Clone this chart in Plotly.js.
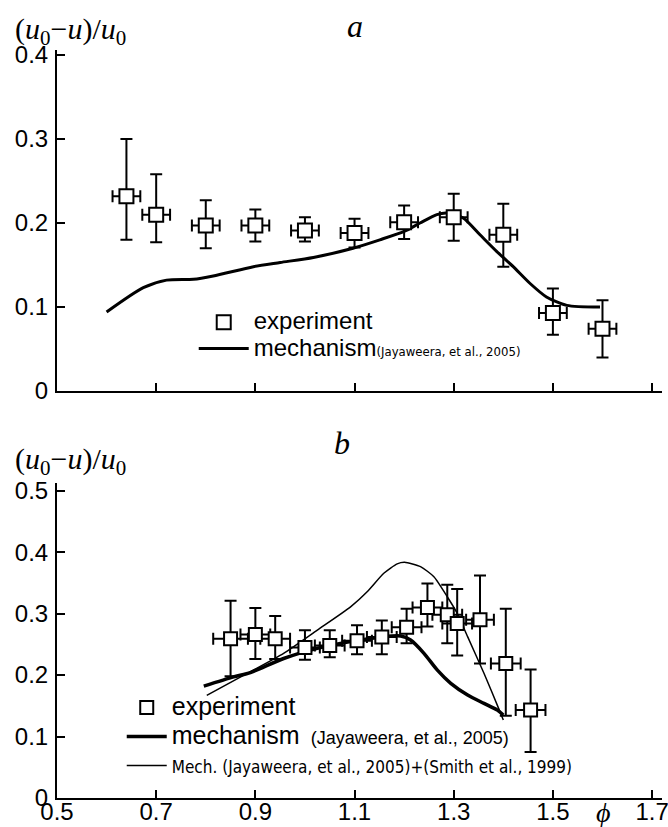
<!DOCTYPE html>
<html><head><meta charset="utf-8">
<script src="https://cdn.plot.ly/plotly-3.0.1.min.js"></script>
<style>html,body{margin:0;padding:0;background:#fff}#chart{width:668px;height:827px}</style>
</head><body><div id="chart"></div>
<script>
// ---------- panel a ----------
const phiA    = [0.64, 0.70, 0.80, 0.90, 1.00, 1.10, 1.20, 1.30, 1.40, 1.50, 1.60];
const expA    = [0.232, 0.210, 0.197, 0.197, 0.191, 0.188, 0.201, 0.207, 0.186, 0.093, 0.074];
const expAUp  = [0.300, 0.258, 0.227, 0.216, 0.207, 0.205, 0.221, 0.235, 0.223, 0.122, 0.108];
const expALo  = [0.180, 0.177, 0.170, 0.178, 0.178, 0.171, 0.181, 0.179, 0.148, 0.067, 0.040];
const phiErrA = [0.028, 0.028, 0.028, 0.028, 0.028, 0.028, 0.028, 0.028, 0.028, 0.028, 0.028];
const mechAPhi = [0.600, 0.674, 0.721, 0.775, 0.815, 0.896, 0.950, 1.017, 1.097, 1.151, 1.200, 1.232, 1.266, 1.286, 1.319, 1.353, 1.387, 1.420, 1.454, 1.487, 1.528, 1.595];
const mechAVal = [0.094, 0.123, 0.132, 0.133, 0.137, 0.148, 0.153, 0.159, 0.170, 0.180, 0.190, 0.200, 0.210, 0.212, 0.206, 0.186, 0.166, 0.148, 0.128, 0.112, 0.102, 0.100];

// ---------- panel b ----------
const phiB    = [0.85, 0.90, 0.94, 1.00, 1.05, 1.105, 1.155, 1.205, 1.247, 1.287, 1.307, 1.353, 1.405, 1.455];
const expB    = [0.259, 0.266, 0.259, 0.245, 0.248, 0.256, 0.262, 0.278, 0.310, 0.298, 0.284, 0.290, 0.219, 0.143];
const expBUp  = [0.321, 0.309, 0.296, 0.273, 0.273, 0.281, 0.289, 0.308, 0.349, 0.347, 0.340, 0.362, 0.308, 0.209];
const expBLo  = [0.198, 0.226, 0.226, 0.225, 0.229, 0.234, 0.234, 0.252, 0.279, 0.252, 0.232, 0.219, 0.134, 0.075];
const phiErrB = [0.035, 0.030, 0.030, 0.030, 0.030, 0.030, 0.030, 0.030, 0.030, 0.030, 0.030, 0.028, 0.030, 0.030];
const mechBPhi = [0.796, 0.856, 0.890, 0.957, 1.025, 1.092, 1.159, 1.193, 1.213, 1.240, 1.267, 1.294, 1.328, 1.361, 1.388, 1.400];
const mechBVal = [0.182, 0.197, 0.204, 0.227, 0.2435, 0.2544, 0.2625, 0.2636, 0.257, 0.2354, 0.208, 0.1866, 0.1676, 0.154, 0.143, 0.135];
const smithPhi = [0.802, 0.890, 0.957, 1.025, 1.092, 1.126, 1.159, 1.186, 1.201, 1.233, 1.260, 1.287, 1.307, 1.328, 1.361, 1.392, 1.400];
const smithVal = [0.167, 0.2055, 0.2354, 0.2733, 0.311, 0.336, 0.3656, 0.381, 0.3835, 0.3764, 0.360, 0.3275, 0.3005, 0.2625, 0.203, 0.143, 0.127];

const xTicks = [0.5, 0.7, 0.9, 1.1, 1.3, 1.5, 1.7];

const SANS = 'Liberation Sans, Arial, sans-serif';
const SERIF = 'Liberation Serif, Times New Roman, serif';
const COND = 'DejaVu Sans Condensed, Liberation Sans, Arial, sans-serif';

function diffUp(v, up){ return v.map((a,i)=>+(up[i]-a).toFixed(4)); }
function diffLo(v, lo){ return v.map((a,i)=>+(a-lo[i]).toFixed(4)); }

const errStyle = {color:'#000', thickness:2, width:6};

const traces = [
  {x: mechAPhi, y: mechAVal, xaxis:'x', yaxis:'y', mode:'lines', type:'scatter',
   line:{color:'#000', width:3, shape:'spline', smoothing:0.7},
   name:'<span style="font-size:24px">mechanism</span><span style="font-size:13px;font-family:'+COND+'">(Jayaweera, et al., 2005)</span>',
   legend:'legend', legendrank:2},
  {x: phiA, y: expA, xaxis:'x', yaxis:'y', mode:'markers', type:'scatter',
   marker:{symbol:'square', size:14, color:'#fff', line:{color:'#000', width:2}},
   error_y:Object.assign({type:'data', array:diffUp(expA,expAUp), arrayminus:diffLo(expA,expALo), symmetric:false}, errStyle),
   error_x:Object.assign({type:'data', array:phiErrA, symmetric:true}, errStyle),
   name:'<span style="font-size:24px">experiment</span>', legend:'legend', legendrank:1},

  {x: mechBPhi, y: mechBVal, xaxis:'x2', yaxis:'y2', mode:'lines', type:'scatter',
   line:{color:'#000', width:3.5, shape:'spline', smoothing:0.7},
   name:'<span style="font-size:25px">mechanism</span>\u00a0\u00a0<span style="font-size:18px">(Jayaweera, et al., 2005)</span>',
   legend:'legend2', legendrank:2},
  {x: smithPhi, y: smithVal, xaxis:'x2', yaxis:'y2', mode:'lines', type:'scatter',
   line:{color:'#000', width:1.5, shape:'spline', smoothing:0.6},
   name:'<span style="font-size:17px;font-family:'+COND+'">Mech. (Jayaweera, et al., 2005)+(Smith et al., 1999)</span>',
   legend:'legend2', legendrank:3},
  {x: phiB, y: expB, xaxis:'x2', yaxis:'y2', mode:'markers', type:'scatter',
   marker:{symbol:'square', size:13, color:'#fff', line:{color:'#000', width:2}},
   error_y:Object.assign({type:'data', array:diffUp(expB,expBUp), arrayminus:diffLo(expB,expBLo), symmetric:false}, errStyle),
   error_x:Object.assign({type:'data', array:phiErrB, symmetric:true}, errStyle),
   name:'<span style="font-size:25px">experiment</span>', legend:'legend2', legendrank:1}
];

const axCommon = {showline:true, linecolor:'#000', linewidth:2, ticks:'inside', ticklen:8, tickwidth:2,
  tickcolor:'#000', showgrid:false, zeroline:false, tickfont:{family:SANS, size:24, color:'#000'}};

const layout = {
  width:668, height:827,
  margin:{l:57, r:6, t:50, b:29},
  paper_bgcolor:'#fff', plot_bgcolor:'rgba(0,0,0,0)',
  font:{family:SANS, color:'#000'},
  showlegend:true,
  xaxis: Object.assign({}, axCommon, {anchor:'y', domain:[0,1], range:[0.5,1.72], tickvals:xTicks, showticklabels:false}),
  yaxis: Object.assign({}, axCommon, {anchor:'x', domain:[0.5441,1], range:[0,0.406], dtick:0.1, tick0:0, ticklabelstandoff:2}),
  xaxis2: Object.assign({}, axCommon, {anchor:'y2', domain:[0,1], range:[0.5,1.72], tickvals:xTicks, ticktext:xTicks.map(String),
    ticklabelstandoff:-9, ticklabeloverflow:'allow'}),
  yaxis2: Object.assign({}, axCommon, {anchor:'x2', domain:[0,0.4215], range:[0,0.513], dtick:0.1, tick0:0, ticklabelstandoff:2}),
  legend: {x:0.226, y:0.6604, xanchor:'left', yanchor:'top', bgcolor:'rgba(0,0,0,0)', borderwidth:0, itemwidth:50,
    font:{family:SANS, size:18, color:'#000'}, tracegroupgap:0, traceorder:'normal'},
  legend2: {x:0.107, y:0.147, xanchor:'left', yanchor:'top', bgcolor:'rgba(0,0,0,0)', borderwidth:0, itemwidth:40,
    font:{family:SANS, size:20, color:'#000'}, tracegroupgap:0, traceorder:'normal'},
  annotations: [
    {xref:'paper', yref:'paper', x:-0.0727, y:1.025, xanchor:'left', yanchor:'middle', showarrow:false,
     text:'(<i>u</i><sub>0</sub>\u2212<i>u</i>)/<i>u</i><sub>0</sub>', font:{family:SERIF, size:30, color:'#000'}},
    {xref:'paper', yref:'paper', x:-0.0727, y:0.450, xanchor:'left', yanchor:'middle', showarrow:false,
     text:'(<i>u</i><sub>0</sub>\u2212<i>u</i>)/<i>u</i><sub>0</sub>', font:{family:SERIF, size:30, color:'#000'}},
    {xref:'paper', yref:'paper', x:0.4926, y:1.032, xanchor:'center', yanchor:'middle', showarrow:false,
     text:'<i>a</i>', font:{family:SERIF, size:32, color:'#000'}},
    {xref:'paper', yref:'paper', x:0.471, y:0.474, xanchor:'center', yanchor:'middle', showarrow:false,
     text:'<i>b</i>', font:{family:SERIF, size:32, color:'#000'}},
    {xref:'paper', yref:'paper', x:0.9025, y:-0.019, xanchor:'center', yanchor:'middle', showarrow:false,
     text:'<i>\u03d5</i>', font:{family:SERIF, size:28, color:'#000'}}
  ]
};

Plotly.newPlot('chart', traces, layout, {displayModeBar:false, staticPlot:true});
</script>
</body></html>
